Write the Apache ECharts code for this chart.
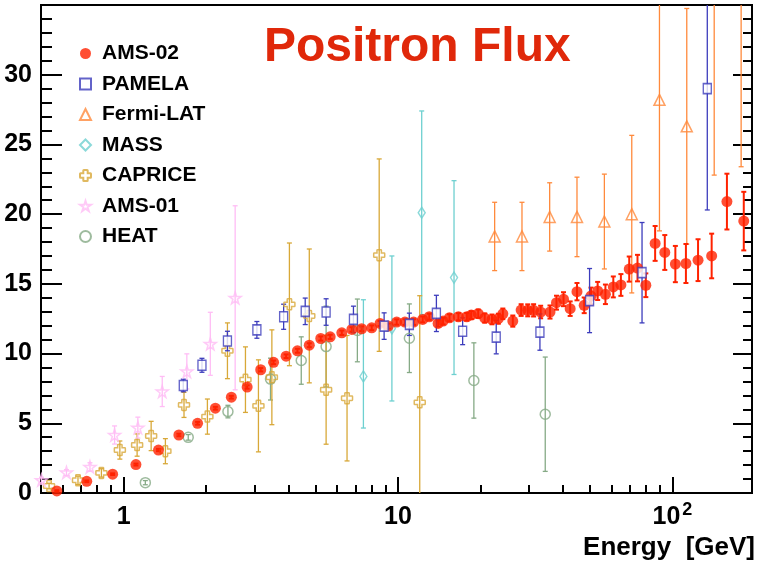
<!DOCTYPE html>
<html>
<head>
<meta charset="utf-8">
<script src="https://cdn.jsdelivr.net/npm/echarts@6/dist/echarts.min.js"></script>
<style>html,body{margin:0;padding:0;background:#fff}#chart{width:760px;height:570px}</style>
</head>
<body>
<div id="chart"></div>
<script>
// rows: [energy GeV, flux, err] or [energy, flux, errDown, errUp]
var ams02 = [
  [0.571, 0.15, 0.05], [0.734, 0.84, 0.06], [0.912, 1.35, 0.06], [1.109, 2.04, 0.07],
  [1.34, 3.08, 0.08], [1.59, 4.16, 0.09], [1.86, 5.0, 0.1], [2.16, 6.08, 0.1],
  [2.47, 6.87, 0.1], [2.82, 7.6, 0.12], [3.16, 8.84, 0.12], [3.52, 9.37, 0.13],
  [3.91, 9.81, 0.13], [4.30, 10.2, 0.14], [4.75, 10.6, 0.14], [5.23, 11.08, 0.15],
  [5.66, 11.2, 0.15], [6.24, 11.49, 0.16], [6.79, 11.73, 0.16], [7.37, 11.78, 0.17],
  [8.02, 11.85, 0.17], [8.6, 12.16, 0.18], [9.22, 11.97, 0.18], [9.89, 12.26, 0.19],
  [10.6, 12.26, 0.2], [11.4, 12.26, 0.2], [12.3, 12.45, 0.21], [13.0, 12.64, 0.22],
  [14.0, 12.16, 0.23], [14.6, 12.33, 0.24], [15.4, 12.57, 0.25], [16.6, 12.64, 0.26],
  [17.8, 12.64, 0.27], [18.5, 12.76, 0.28], [19.6, 12.86, 0.3], [20.7, 12.55, 0.33],
  [22.0, 12.45, 0.35], [23.2, 12.5, 0.36], [24.1, 12.85, 0.38], [26.2, 12.33, 0.4],
  [28.1, 13.12, 0.42], [29.7, 13.1, 0.43], [31.2, 13.1, 0.44], [33.1, 12.98, 0.45],
  [35.8, 12.98, 0.47], [37.8, 13.65, 0.5], [40.1, 13.9, 0.5], [42.4, 13.22, 0.52],
  [44.9, 14.44, 0.62], [47.7, 13.46, 0.56], [50.5, 14.13, 0.6], [53.4, 14.49, 0.65],
  [57.0, 14.25, 0.7], [60.9, 14.78, 0.75], [64.9, 14.92, 0.78], [69.6, 16.06, 0.9],
  [74.6, 16.13, 0.95], [80.0, 14.9, 0.85], [86.5, 17.9, 1.25], [93.8, 17.25, 1.25],
  [102.5, 16.42, 1.3], [112, 16.46, 1.4], [124, 16.7, 1.5], [139, 17.0, 1.6],
  [158, 20.9, 2.0], [182, 19.5, 2.1]
];
var pamela = [
  [1.65, 7.71, 0.45], [1.93, 9.16, 0.5], [2.39, 10.9, 0.7], [3.06, 11.7, 0.6],
  [3.83, 12.64, 0.9], [4.59, 13.03, 0.95], [5.47, 12.98, 0.95], [6.88, 12.45, 0.95],
  [8.9, 11.97, 0.95], [11.0, 12.1, 0.8], [13.8, 12.88, 1.3], [17.2, 11.6, 0.96],
  [22.8, 11.18, 1.2], [32.9, 11.54, 1.3], [49.9, 13.8, 2.3], [77.5, 15.8, 3.6],
  [134, 29.0, 8.7]
];
var fermi = [
  [22.5, 18.4, 2.45], [28.3, 18.4, 2.45], [35.7, 19.8, 2.45], [44.9, 19.8, 2.85],
  [56.5, 19.47, 3.4], [71.1, 20.0, 5.65], [89.7, 28.2, 9.4], [112.8, 26.3, 8.45],
  [142, 36.5, 13.7], [178, 38.0, 14.6]
];
var mass = [
  [7.48, 8.36, 3.7, 5.5], [9.5, 11.8, 5.2], [12.2, 20.1, 7.3], [16.0, 15.45, 6.95]
];
var caprice = [
  [0.535, 0.5, 0.2], [0.682, 0.91, 0.3], [0.83, 1.44, 0.3], [0.969, 3.08, 0.65],
  [1.12, 3.44, 0.8], [1.26, 4.09, 1.05], [1.42, 3.0, 0.9], [1.66, 6.32, 0.9],
  [2.02, 5.48, 1.26], [2.39, 10.2, 2.0], [2.78, 8.13, 2.35], [3.1, 6.25, 3.3],
  [3.47, 8.3, 3.4], [4.02, 13.53, 4.4], [4.75, 12.7, 4.8], [5.47, 7.4, 3.9],
  [6.52, 6.8, 4.5], [8.54, 17.06, 6.9], [12.0, 6.5, 7.65]
];
var ams01 = [
  [0.502, 0.93, 0.2], [0.619, 1.47, 0.2], [0.754, 1.87, 0.3], [0.927, 4.16, 0.65],
  [1.127, 4.69, 0.75], [1.383, 7.28, 1.08], [1.70, 8.72, 1.26], [2.07, 10.7, 2.26],
  [2.55, 14.0, 6.6]
];
var heat = [
  [1.2, 0.74, 0.15], [1.72, 3.99, 0.2], [2.4, 5.84, 0.45], [3.43, 8.17, 1.5],
  [4.44, 9.5, 1.7], [5.47, 10.5, 2.9], [7.11, 11.66, 2.25], [11.0, 11.1, 2.46],
  [18.9, 8.07, 2.7], [34.4, 5.65, 4.1]
];

var legendNames = ['AMS-02', 'PAMELA', 'Fermi-LAT', 'MASS', 'CAPRICE', 'AMS-01', 'HEAT'];
var xMajorTicks = [1, 10, 100];
var xMinorTicks = [0.6, 0.7, 0.8, 0.9, 2, 3, 4, 5, 6, 7, 8, 9, 20, 30, 40, 50, 60, 70, 80, 90];

var font = '"Liberation Sans", Arial, Helvetica, sans-serif';
var crossPath = 'path://M3.5,0 H6.5 Q7,0 7,0.5 V3 H9.5 Q10,3 10,3.5 V6.5 Q10,7 9.5,7 H7 V9.5 Q7,10 6.5,10 H3.5 Q3,10 3,9.5 V7 H0.5 Q0,7 0,6.5 V3.5 Q0,3 0.5,3 H3 V0.5 Q3,0 3.5,0 Z';
var starPath = 'path://M50,0 L61,35 L98,35 L68,57 L79,91 L50,70 L21,91 L32,57 L2,35 L39,35 Z';

var chart = echarts.init(document.getElementById('chart'));

function markers(name, rows, symbol, size, color, filled) {
  return {
    name: name, type: 'scatter', symbol: symbol, symbolSize: size, z: 3, clip: true,
    data: rows.map(function (r) { return [r[0], r[1]]; }),
    itemStyle: filled ? {color: color}
      : {color: name === 'PAMELA' ? '#fff' : 'rgba(255,255,255,0)', borderColor: color, borderWidth: 1.5}
  };
}

function errorBars(name, rows, color, width, cap) {
  return {
    name: name, type: 'custom', z: 1, silent: true,
    data: rows.map(function (r) { return [r[0], r[1], r[2], r.length > 3 ? r[3] : r[2]]; }),
    encode: {x: 0, y: 1},
    renderItem: function (params, api) {
      var cs = params.coordSys;
      var top = api.coord([api.value(0), api.value(1) + api.value(3)]);
      var bot = api.coord([api.value(0), api.value(1) - api.value(2)]);
      var x = top[0];
      var y1 = Math.max(top[1], cs.y), y2 = Math.min(bot[1], cs.y + cs.height);
      if (y2 <= y1) return null;
      var st = {stroke: color, lineWidth: width};
      var kids = [{type: 'line', shape: {x1: x, y1: y1, x2: x, y2: y2}, style: st}];
      if (top[1] >= cs.y) kids.push({type: 'line', shape: {x1: x - cap, y1: y1, x2: x + cap, y2: y1}, style: st});
      if (bot[1] <= cs.y + cs.height) kids.push({type: 'line', shape: {x1: x - cap, y1: y2, x2: x + cap, y2: y2}, style: st});
      return {type: 'group', children: kids};
    }
  };
}

var cRed = '#ff2200', cBlue = '#3c3cbc', cOrange = '#ff8a3c', cCyan = '#6ed0d0',
    cGold = '#d8a838', cPink = '#ffbdf5', cGreen = '#86aa86';

var axisLineStyle = {color: '#000', width: 2};

option = {
  animation: false,
  backgroundColor: '#fff',
  title: [
    {text: 'Positron Flux', left: 259, top: 19,
     textStyle: {color: '#e0280a', fontSize: 48, fontWeight: 'bold', fontFamily: font}},
    {text: 'Energy  [GeV]', right: 0, top: 530,
     textStyle: {color: '#000', fontSize: 26, fontWeight: 'bold', fontFamily: font}}
  ],
  legend: {
    data: legendNames, orient: 'vertical', left: 74, top: 38,
    itemWidth: 11, itemHeight: 11, itemGap: 9.5,
    textStyle: {fontSize: 21, fontWeight: 'bold', color: '#000', fontFamily: font, padding: [0, 0, 0, 6]}
  },
  grid: {left: 41, right: 8, top: 5, bottom: 77, show: true, borderColor: '#000', borderWidth: 2,
         outerBoundsMode: 'none'},
  xAxis: [
    {type: 'log', min: 0.5, max: 195, position: 'bottom',
     axisLine: {lineStyle: axisLineStyle},
     axisTick: {inside: true, length: 16, lineStyle: axisLineStyle, customValues: xMajorTicks},
     axisLabel: {customValues: xMajorTicks, margin: 8,
       formatter: function (v) {
         var e = Math.round(Math.log(v) / Math.LN10);
         return e >= 2 ? '{b|10}{s|' + e + '}' : '{b|' + v + '}';
       },
       rich: {
         b: {fontSize: 25, lineHeight: 32, fontWeight: 'bold', color: '#000', fontFamily: font},
         s: {fontSize: 18, fontWeight: 'bold', color: '#000', fontFamily: font, verticalAlign: 'top', padding: [0, 0, 14, 2]}
       }},
     splitLine: {show: false}},
    {type: 'log', min: 0.5, max: 195, position: 'bottom',
     axisLine: {show: false},
     axisTick: {inside: true, length: 8, lineStyle: {color: '#000', width: 2}, customValues: xMinorTicks},
     axisLabel: {show: false}, splitLine: {show: false}}
  ],
  yAxis: [
    {type: 'value', min: 0, max: 35, interval: 5, position: 'left',
     axisLine: {lineStyle: axisLineStyle},
     axisTick: {inside: true, length: 21, lineStyle: axisLineStyle},
     minorTick: {show: true, splitNumber: 5, length: 11, lineStyle: {color: '#000', width: 2}},
     axisLabel: {margin: 9, fontSize: 25, fontWeight: 'bold', color: '#000', fontFamily: font,
       formatter: function (v) { return v >= 35 ? '' : String(v); }},
     splitLine: {show: false}, minorSplitLine: {show: false}},
    {type: 'value', min: 0, max: 35, interval: 5, position: 'right',
     axisLine: {lineStyle: axisLineStyle},
     axisTick: {inside: true, length: 19, lineStyle: axisLineStyle},
     minorTick: {show: true, splitNumber: 5, length: 9, lineStyle: {color: '#000', width: 2}},
     axisLabel: {show: false}, splitLine: {show: false}}
  ],
  series: [
    markers('HEAT', heat, 'circle', 10, cGreen, false),
    markers('MASS', mass, 'diamond', [7, 11], cCyan, false),
    markers('CAPRICE', caprice, crossPath, 11, cGold, false),
    markers('AMS-01', ams01, starPath, 12, cPink, false),
    markers('Fermi-LAT', fermi, 'triangle', 11, cOrange, false),
    markers('AMS-02', ams02, 'circle', 11, cRed, true),
    markers('PAMELA', pamela, 'rect', [8, 10], cBlue, false),
    errorBars('HEAT', heat, cGreen, 1.3, 2.5),
    errorBars('MASS', mass, cCyan, 1.3, 2.5),
    errorBars('CAPRICE', caprice, cGold, 1.3, 2.5),
    errorBars('AMS-01', ams01, cPink, 1.3, 2.5),
    errorBars('Fermi-LAT', fermi, cOrange, 1.3, 2.5),
    errorBars('AMS-02', ams02, cRed, 2, 2.5),
    errorBars('PAMELA', pamela, cBlue, 1.3, 2.5)
  ]
};

chart.setOption(option);
</script>
</body>
</html>
